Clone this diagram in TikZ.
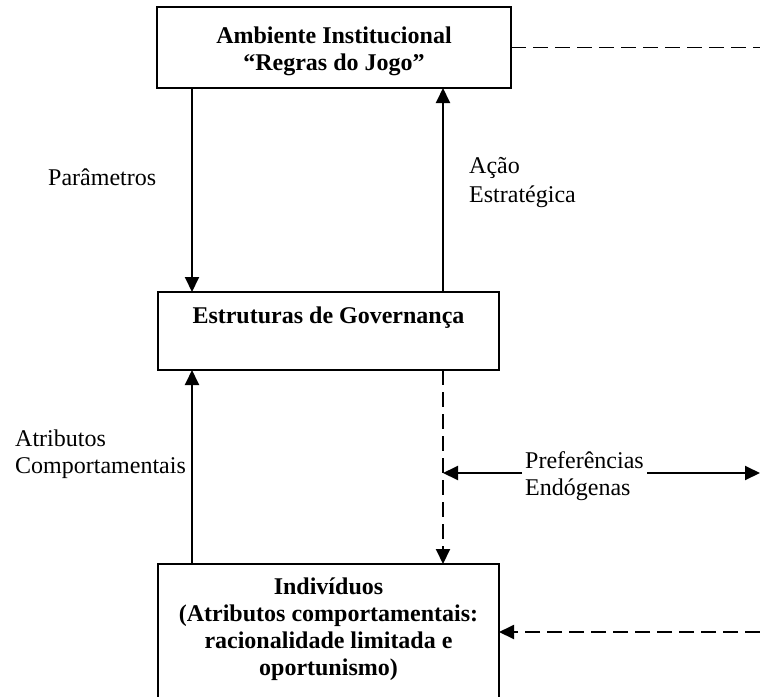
\documentclass[tikz,border=0pt]{standalone}
\usepackage{fontspec}
\setmainfont{Liberation Serif}
\usetikzlibrary{arrows.meta}
\begin{document}
\begin{tikzpicture}[x=1pt,y=-1pt,
  box/.style={draw, line width=1.9pt, rectangle, inner sep=0pt, outer sep=0pt, anchor=north west},
  boldtxt/.style={font=\fontsize{24}{26.7}\selectfont\bfseries, inner sep=0pt, align=center, anchor=base},
  lbl/.style={font=\fontsize{24}{27}\selectfont, inner sep=0pt, align=left, anchor=base west},
  link/.style={line width=1.9pt, -{Triangle[length=15pt,width=14pt]}},
  dlink/.style={link, dash pattern=on 15pt off 7pt},
  dline/.style={line width=1.9pt, dash pattern=on 15pt off 7pt}]
\useasboundingbox (0,0) rectangle (760,696);

% boxes
\node[box, minimum width=354pt, minimum height=81pt] (amb) at (157,7) {};
\node[box, minimum width=341pt, minimum height=78pt] (gov) at (158,292) {};
\node[box, minimum width=341pt, minimum height=136pt] (ind) at (158,564) {};

% box texts (placed by the baseline of their last line)
\node[boldtxt] (ambt) at (334,70) {Ambiente Institucional\\``Regras do Jogo''};
\node[boldtxt] (govt) at (328.5,323) {Estruturas de Governança};
\node[boldtxt] (indt) at (328.5,675) {Indivíduos\\(Atributos comportamentais:\\racionalidade limitada e\\oportunismo)};

% side labels
\node[lbl] (par) at (48,185) {Parâmetros};
\node[lbl, font=\fontsize{24}{28.5}\selectfont] (acao) at (469,202) {Ação\\Estratégica};
\node[lbl, font=\fontsize{24}{26.5}\selectfont] (atr) at (15,473) {Atributos\\Comportamentais};
\node[lbl, inner xsep=3pt] (pref) at (522,495) {Preferências\\Endógenas};

% helper points
\coordinate (xl) at (192,0);
\coordinate (xr) at (443,0);
\coordinate (pl) at (443,473);
\coordinate (pr) at (760,473);
\coordinate (r1) at (760,47.5);
\coordinate (r2) at (760,632);

% solid links
\draw[link] (amb.south -| xl) -- (gov.north -| xl);
\draw[link] (gov.north -| xr) -- (amb.south -| xr);
\draw[link] (ind.north -| xl) -- (gov.south -| xl);

% dashed links
\draw[dlink] (gov.south -| xr) -- (ind.north -| xr);
\draw[dline] (amb.east) -- (r1);
\draw[dlink] (r2) -- (ind.east);

% two-way arrow around the label
\draw[link] (pl -| pref.west) -- (pl);
\draw[link] (pl -| pref.east) -- (pr);
\end{tikzpicture}
\end{document}
